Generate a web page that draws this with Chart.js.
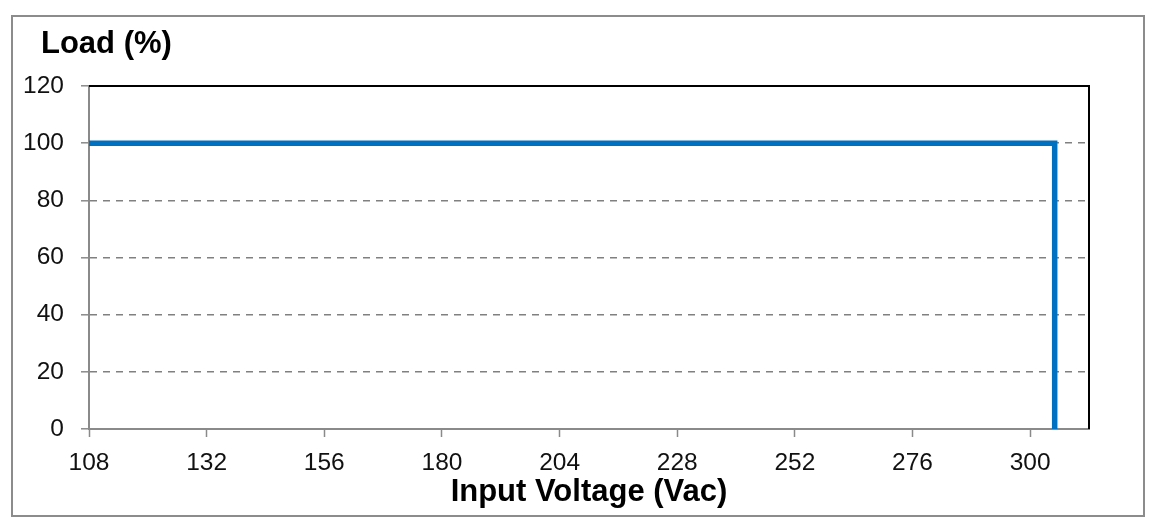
<!DOCTYPE html>
<html>
<head>
<meta charset="utf-8">
<script src="https://cdn.jsdelivr.net/npm/chart.js@4.4.1/dist/chart.umd.min.js"></script>
<style>
  html, body { margin: 0; padding: 0; background: #fff; }
  #wrap { position: relative; width: 1154px; height: 532px; }
  #frame { position: absolute; left: 11px; top: 15px; width: 1134px; height: 502px; box-sizing: border-box; border: 2px solid #8c8c8c; pointer-events: none; }
  canvas { position: absolute; left: 0; top: 0; }
</style>
</head>
<body>
<div id="wrap">
  <canvas id="c" width="1154" height="532"></canvas>
  <div id="frame"></div>
</div>
<script>
// ---- data ----
const voltage = [108, 305, 305];
const load = [100, 100, 0];
const xTicks = [108, 132, 156, 180, 204, 228, 252, 276, 300];
const yTicks = [0, 20, 40, 60, 80, 100, 120];
const xMin = 108, xMax = 312;
const yMin = 0, yMax = 120;
const yTitle = 'Load (%)';
const xTitle = 'Input Voltage (Vac)';

const FONT = "'Liberation Sans', Arial, sans-serif";
const GRAY = '#8a8a8a';

const plotFrame = {
  id: 'plotFrame',
  beforeDatasetsDraw(chart) {
    const {ctx, chartArea: a} = chart;
    ctx.save();
    ctx.strokeStyle = '#000';
    ctx.lineWidth = 2;
    ctx.beginPath();
    ctx.moveTo(a.left, a.top);
    ctx.lineTo(a.right, a.top);
    ctx.lineTo(a.right, a.bottom);
    ctx.stroke();
    ctx.restore();
  },
  afterDraw(chart) {
    const {ctx} = chart;
    ctx.save();
    ctx.fillStyle = '#000';
    ctx.font = "bold 31px " + FONT;
    ctx.textAlign = 'left';
    ctx.textBaseline = 'middle';
    ctx.fillText(yTitle, 41, 44);
    ctx.restore();
  }
};

new Chart(document.getElementById('c'), {
  type: 'line',
  data: {
    datasets: [{
      data: voltage.map((v, i) => ({x: v, y: load[i]})),
      borderColor: '#0070C0',
      borderWidth: 5.5,
      pointRadius: 0,
      pointHoverRadius: 0,
      tension: 0,
      fill: false,
      borderJoinStyle: 'miter',
      clip: false
    }]
  },
  options: {
    responsive: false,
    animation: false,
    devicePixelRatio: 1,
    layout: { padding: { left: 0, top: 86, right: 65, bottom: 0 } },
    plugins: {
      legend: { display: false },
      tooltip: { enabled: false },
      title: { display: false }
    },
    scales: {
      x: {
        type: 'linear',
        min: xMin, max: xMax,
        afterBuildTicks: s => { s.ticks = xTicks.map(v => ({value: v})); },
        afterFit: s => { s.height = 103; },
        ticks: { color: '#111', font: { family: FONT, size: 24.5 }, padding: 12, maxRotation: 0, autoSkip: false },
        grid: { display: true, drawOnChartArea: false, drawTicks: true, tickLength: 8, tickColor: GRAY, tickWidth: 1.5 },
        border: { display: true, color: GRAY, width: 2 },
        title: { display: true, text: xTitle, color: '#000', font: { family: FONT, size: 31, weight: 'bold' }, padding: { top: 0, bottom: 21 } }
      },
      y: {
        type: 'linear',
        min: yMin, max: yMax,
        afterBuildTicks: s => { s.ticks = yTicks.map(v => ({value: v})); },
        afterFit: s => { s.width = 89; },
        ticks: { color: '#111', font: { family: FONT, size: 24.5 }, padding: 17 },
        grid: {
          display: true, drawTicks: true, tickLength: 8, tickColor: GRAY, tickWidth: 1.5,
          tickBorderDash: [],
          lineWidth: 1.6,
          color: ctx => (ctx.tick && (ctx.tick.value === yMin || ctx.tick.value === yMax)) ? 'rgba(0,0,0,0)' : '#808080'
        },
        border: { display: true, color: GRAY, width: 2, dash: [7, 6] }
      }
    }
  },
  plugins: [plotFrame]
});
</script>
</body>
</html>
